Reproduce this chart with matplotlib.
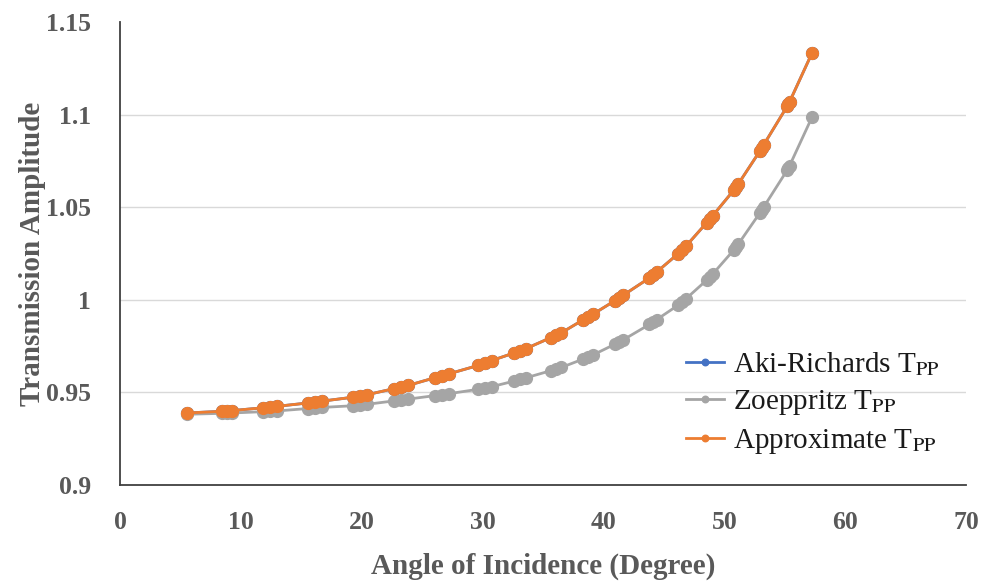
import matplotlib
matplotlib.use("Agg")
import matplotlib.pyplot as plt

# Angles of incidence (degrees) (clusters of close points)
angles = [5.54,
          8.40, 8.85, 9.30,
          11.81, 12.41, 13.01,
          15.53, 16.13, 16.73,
          19.26, 19.86, 20.46,
          22.65, 23.25, 23.85,
          26.09, 26.64, 27.19,
          29.65, 30.20, 30.75,
          32.60, 33.10, 33.60,
          35.62, 36.07, 36.52,
          38.32, 38.72, 39.12,
          40.94, 41.29, 41.64,
          43.80, 44.10, 44.40,
          46.20, 46.50, 46.80,
          48.55, 48.80, 49.05,
          50.77, 50.97, 51.17,
          52.95, 53.10, 53.25,
          55.20, 55.30, 55.40,
          57.26]

approx_tpp = [0.9389,
              0.9398, 0.9400, 0.9402,
              0.9417, 0.9421, 0.9425,
              0.9443, 0.9448, 0.9453,
              0.9474, 0.9481, 0.9488,
              0.9520, 0.9529, 0.9538,
              0.9580, 0.9590, 0.9600,
              0.9646, 0.9659, 0.9672,
              0.9713, 0.9725, 0.9737,
              0.9795, 0.9808, 0.9822,
              0.9892, 0.9907, 0.9922,
              0.9995, 1.0010, 1.0025,
              1.0118, 1.0134, 1.0150,
              1.0250, 1.0269, 1.0288,
              1.0417, 1.0436, 1.0455,
              1.0591, 1.0609, 1.0627,
              1.0804, 1.0820, 1.0836,
              1.1045, 1.1057, 1.1069,
              1.1333]

# Aki-Richards coincides with the approximate curve (hidden underneath)
aki_tpp = list(approx_tpp)

zoep_tpp = [0.9382,
            0.9387, 0.9388, 0.9389,
            0.9396, 0.9398, 0.9400,
            0.9413, 0.9416, 0.9419,
            0.9428, 0.9432, 0.9436,
            0.9454, 0.9459, 0.9464,
            0.9483, 0.9488, 0.9493,
            0.9517, 0.9524, 0.9531,
            0.9561, 0.9570, 0.9579,
            0.9617, 0.9626, 0.9635,
            0.9680, 0.9691, 0.9702,
            0.9760, 0.9772, 0.9784,
            0.9867, 0.9880, 0.9893,
            0.9972, 0.9988, 1.0004,
            1.0107, 1.0123, 1.0140,
            1.0268, 1.0285, 1.0302,
            1.0470, 1.0485, 1.0500,
            1.0700, 1.0712, 1.0724,
            1.0987]

series_labels = [r"Aki-Richards T$_{\mathrm{PP}}$",
                 r"Zoeppritz T$_{\mathrm{PP}}$",
                 r"Approximate T$_{\mathrm{PP}}$"]
xticks = [0, 10, 20, 30, 40, 50, 60, 70]
yticks = [0.9, 0.95, 1.0, 1.05, 1.1, 1.15]
ytick_labels = ["0.9", "0.95", "1", "1.05", "1.1", "1.15"]

plt.rcParams["font.family"] = ["Liberation Serif", "DejaVu Serif"]
plt.rcParams["mathtext.fontset"] = "stix"

fig = plt.figure(figsize=(9.95, 5.81), dpi=100)
ax = fig.add_axes([0.1206, 0.1652, 0.8503, 0.7969])

colors = ["#4472C4", "#A5A5A5", "#ED7D31"]
ms = 8.5
lw = 2.0
ax.plot(angles, aki_tpp, color=colors[0], lw=lw, marker="o", ms=ms, label=series_labels[0], zorder=3)
ax.plot(angles, zoep_tpp, color=colors[1], lw=lw, marker="o", ms=ms, label=series_labels[1], zorder=4)
ax.plot(angles, approx_tpp, color=colors[2], lw=lw, marker="o", ms=ms, label=series_labels[2], zorder=5)

ax.set_xlim(0, 70)
ax.set_ylim(0.9, 1.15)
ax.set_xticks(xticks)
ax.set_yticks(yticks)
ax.set_yticklabels(ytick_labels)

for y in [0.95, 1.0, 1.05, 1.1]:
    ax.axhline(y, color="#D9D9D9", lw=1.0, zorder=1)

for s in ["top", "right"]:
    ax.spines[s].set_visible(False)
for s in ["left", "bottom"]:
    ax.spines[s].set_color("#404040")
    ax.spines[s].set_linewidth(1.3)

ax.tick_params(axis="both", length=0, labelsize=18.5, labelcolor="#595959")
ax.tick_params(axis="y", pad=21)
ax.tick_params(axis="x", pad=19)
for lab in ax.get_xticklabels() + ax.get_yticklabels():
    lab.set_fontweight("bold")

ax.set_xlabel("Angle of Incidence (Degree)", fontsize=21, fontweight="bold", color="#595959", labelpad=13)
ax.set_ylabel("Transmission Amplitude", fontsize=21, fontweight="bold", color="#595959", labelpad=0)

leg = ax.legend(loc="lower right", bbox_to_anchor=(1.0, 0.005), frameon=False, fontsize=21,
                handlelength=1.3, handletextpad=0.3, labelspacing=0.35, markerscale=0.55)
for t in leg.get_texts():
    t.set_color("#1A1A1A")

fig.savefig("out.png", dpi=100)
